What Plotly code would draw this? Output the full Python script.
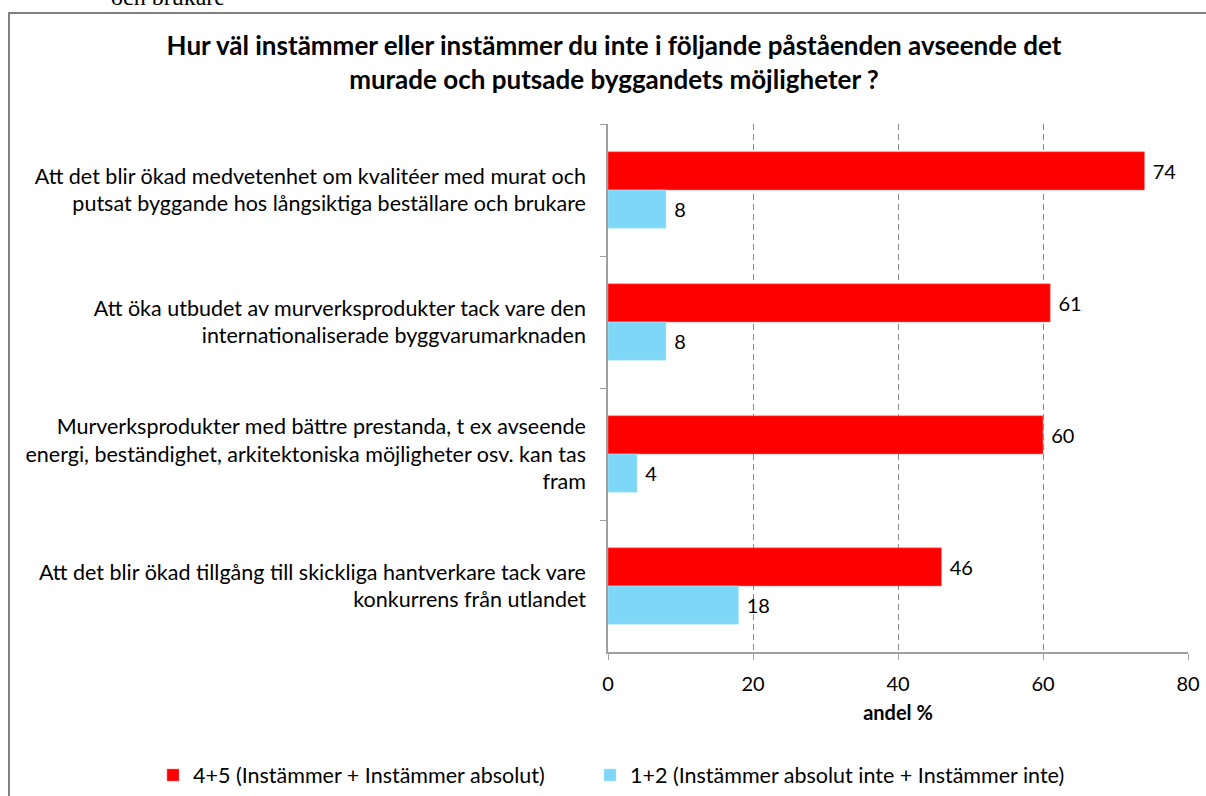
import plotly.graph_objects as go

categories = [
    "Att det blir ökad medvetenhet om kvalitéer med murat och<br>putsat byggande hos långsiktiga beställare och brukare",
    "Att öka utbudet av murverksprodukter tack vare den<br>internationaliserade byggvarumarknaden",
    "Murverksprodukter med bättre prestanda, t ex avseende<br>energi, beständighet, arkitektoniska möjligheter osv. kan tas<br>fram",
    "Att det blir ökad tillgång till skickliga hantverkare tack vare<br>konkurrens från utlandet",
]
agree = [74, 61, 60, 46]
disagree = [8, 8, 4, 18]
series_names = ["4+5 (Instämmer + Instämmer absolut)", "1+2 (Instämmer absolut inte + Instämmer inte)"]
x_ticks = [0, 20, 40, 60, 80]

FONT = "Lato"
W, H = 1206, 796
L, R, T, B = 608, 18, 124, 144
pw, ph = W - L - R, H - T - B

fig = go.Figure()
fig.add_trace(go.Bar(
    y=categories, x=agree, name=series_names[0], orientation="h",
    marker=dict(color="#FF0000", line=dict(color="#FF8080", width=0.5)),
    text=["\u00a0" + str(v) for v in agree],
    textposition="outside", textfont=dict(size=20, color="black", family=FONT),
    cliponaxis=False, legend="legend", showlegend=True,
))
fig.add_trace(go.Bar(
    y=categories, x=disagree, name=series_names[1], orientation="h",
    marker=dict(color="#7FD7F7", line=dict(color="#B0E6FA", width=0.5)),
    text=["\u00a0" + str(v) for v in disagree],
    textposition="outside", textfont=dict(size=20, color="black", family=FONT),
    cliponaxis=False, legend="legend2", showlegend=True,
))

legend_common = dict(
    orientation="h", xref="container", yref="container",
    xanchor="left", y=1 - 775 / H, yanchor="middle",
    font=dict(size=21.5, family=FONT, color="black"), bgcolor="rgba(0,0,0,0)",
)

fig.update_layout(
    width=W, height=H,
    margin=dict(l=L, r=R, t=T, b=B, autoexpand=False),
    paper_bgcolor="white", plot_bgcolor="white", showlegend=True,
    barmode="group", bargap=0.42, bargroupgap=0,
    font=dict(family=FONT, size=20, color="black"),
    title=dict(
        text="<b>Hur väl instämmer eller instämmer du inte i följande påståenden avseende det<br>murade och putsade byggandets möjligheter ?</b>",
        x=614 / W, xref="container", xanchor="center",
        y=1 - 55 / H, yref="container", yanchor="middle",
        font=dict(size=26, family=FONT, color="black"),
    ),
    xaxis=dict(
        range=[0, 80], tickvals=x_ticks, ticktext=[str(t) for t in x_ticks],
        showgrid=True, gridcolor="#888888", griddash="6px,4px", gridwidth=1,
        zeroline=False, showline=True, linecolor="#A0A0A0", linewidth=1.5,
        ticks="outside", ticklen=6, tickcolor="#A0A0A0",
        tickfont=dict(size=20, family=FONT), ticklabelstandoff=7,
        title=dict(text="<b>andel %</b>", font=dict(size=20, family=FONT), standoff=12),
    ),
    yaxis=dict(
        autorange="reversed", showline=True, linecolor="#A0A0A0", linewidth=1.5,
        ticks="outside", ticklen=6, tickcolor="#A0A0A0", tickson="boundaries",
        showgrid=False, tickfont=dict(size=21.5, family=FONT), ticklabelstandoff=16,
    ),
    legend=dict(x=153 / W, **legend_common),
    legend2=dict(x=590 / W, **legend_common),
    shapes=[dict(
        type="rect", xref="paper", yref="paper",
        x0=(9 - L) / pw, x1=(W + 20 - L) / pw,
        y0=-(H + 20 - T - ph) / ph - 0.1, y1=1 + (T - 13) / ph,
        line=dict(color="#808080", width=2), fillcolor="rgba(0,0,0,0)", layer="below",
    )],
    annotations=[dict(
        text="och brukare", xref="paper", yref="paper",
        x=(168 - L) / pw, y=1 + (T - 12) / ph, xanchor="center", yanchor="bottom",
        showarrow=False, font=dict(family="Liberation Serif", size=24, color="black"),
    )],
)

fig.write_html(
    "out.html",
    config={"displayModeBar": False},
    post_script="document.body.style.margin='0px';document.body.style.overflow='hidden';",
)
